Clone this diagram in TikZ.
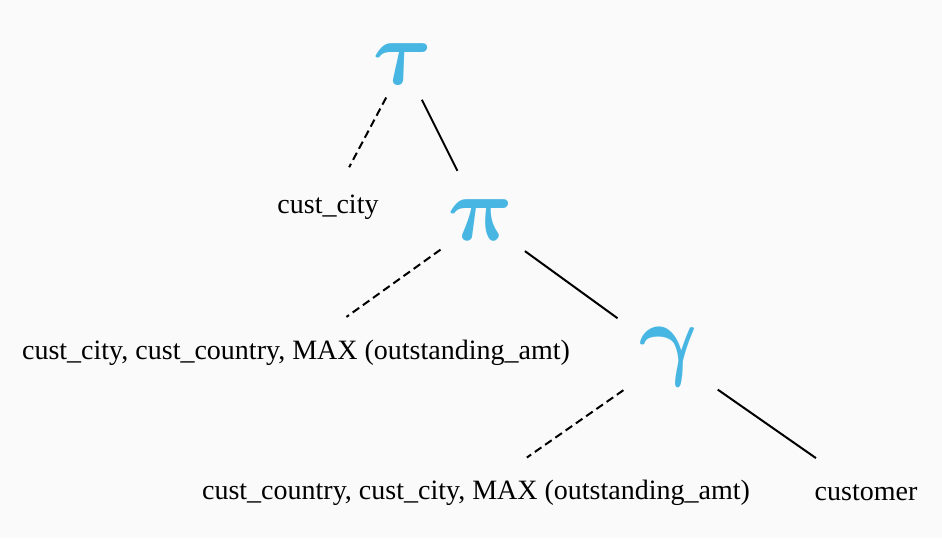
\RequirePackage{fix-cm}
\documentclass[tikz,border=0pt]{standalone}
\usepackage{fontspec}
\setmainfont{Liberation Serif}
\usepackage{xcolor}
\usepackage{tikz}
\usetikzlibrary{positioning}
\definecolor{opblue}{RGB}{72,182,226}
\definecolor{paper}{RGB}{250,250,250}

\begin{document}
\begin{tikzpicture}[
    x=1pt, y=-1pt,
    op/.style={inner sep=0pt, xslant=-0.12, text=opblue, font=\fontsize{92}{92}\selectfont\boldmath},
    attr/.style={inner sep=0pt, font=\fontsize{28}{30}\selectfont},
    edge/.style={line width=2pt},
    sub/.style={line width=2pt, dash pattern=on 8pt off 4.5pt}
]
\fill[paper] (0,0) rectangle (942,538);
\useasboundingbox (0,0) rectangle (942,538);

\node[op] (sort) at (404,64) {$\tau$};
\node[attr] (sortkey) at (328,207) {cust\_city};
\node[op] (proj) at (482,220) {$\pi$};
\node[attr] (projlist) at (296,353) {cust\_city, cust\_country, MAX (outstanding\_amt)};
\node[op] (group) at (671,357) {$\gamma$};
\node[attr] (grouplist) at (476,493) {cust\_country, cust\_city, MAX (outstanding\_amt)};
\node[attr] (rel) at (866,493) {customer};

\draw[sub, shorten <=38pt, shorten >=45pt] (sort.center) -- (sortkey.center);
\draw[edge, shorten <=40pt, shorten >=55pt] (sort.center) -- (proj.center);
\draw[sub, shorten <=51pt, shorten >=62pt] (proj.center) -- (projlist.center);
\draw[edge, shorten <=53pt, shorten >=66pt] (proj.center) -- (group.center);
\draw[sub, shorten <=58pt, shorten >=62pt] (group.center) -- (grouplist.center);
\draw[edge, shorten <=57pt, shorten >=61pt] (group.center) -- (rel.center);
\end{tikzpicture}
\end{document}
